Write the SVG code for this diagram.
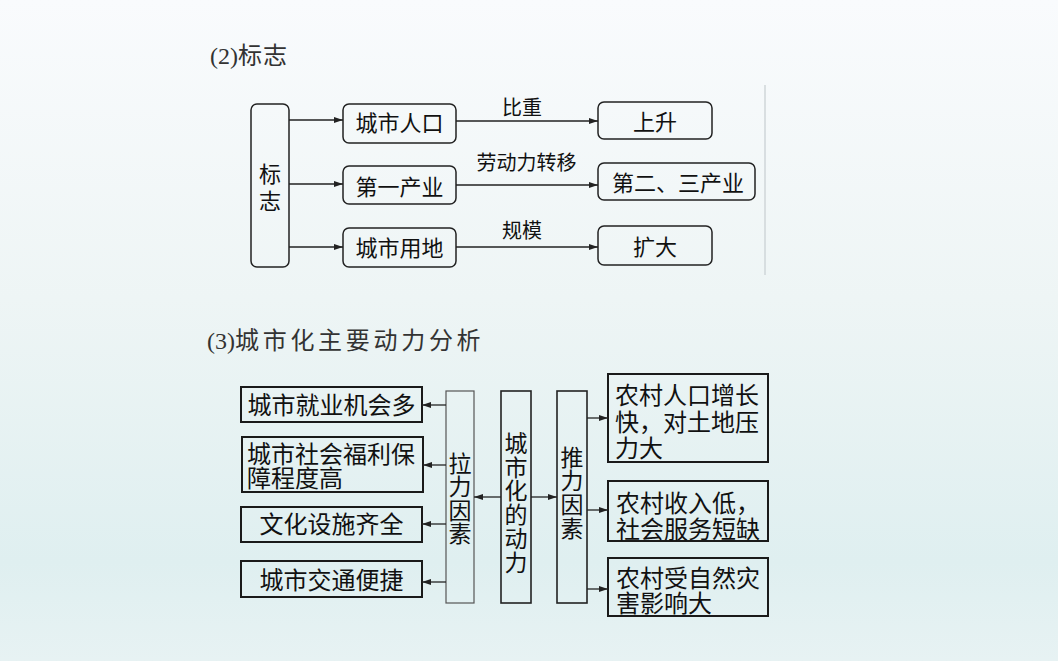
<svg xmlns="http://www.w3.org/2000/svg" width="1058" height="661" viewBox="0 0 1058 661">
<defs>
<linearGradient id="bg" x1="0" y1="0" x2="0" y2="1">
<stop offset="0" stop-color="#f9fbfd"/>
<stop offset="0.45" stop-color="#eef5f5"/>
<stop offset="0.85" stop-color="#dfeff0"/>
<stop offset="1" stop-color="#e7f2f3"/>
</linearGradient>
<marker id="ah" markerUnits="userSpaceOnUse" markerWidth="10" markerHeight="8" refX="9" refY="3" orient="auto">
<path d="M0,0 L9,3 L0,6 z" fill="#222"/>
</marker>
</defs>
<style>
.t{font-family:"Noto Sans CJK SC","Noto Sans",sans-serif;fill:#111}
.title{font-family:"Liberation Serif","Noto Sans CJK SC",serif;font-size:24px;fill:#333}
.b22{font-size:22px}
.b20{font-size:20px}
.b24{font-size:24px}
.b23{font-size:23px}
.v{writing-mode:vertical-rl;text-orientation:upright}
.rb{fill:none;stroke:#222;stroke-width:1.5}
.sb{fill:none;stroke:#1a1a1a;stroke-width:2}
.ln{stroke:#222;stroke-width:1.3;fill:none;marker-end:url(#ah)}
.mid{text-anchor:middle}
</style>
<rect x="0" y="0" width="1058" height="661" fill="url(#bg)"/>

<text class="title" x="210" y="64">(2)<tspan letter-spacing="1">标志</tspan></text>
<line x1="765" y1="85" x2="765" y2="275" stroke="#cfd6d8" stroke-width="1.5"/>

<g id="n-biaozhi">
<rect class="rb" x="251" y="104" width="38" height="163" rx="6"/>
<text class="t b22 v" x="270" y="163" letter-spacing="5">标志</text>
</g>
<g id="n-renkou">
<rect class="rb" x="343" y="104" width="113" height="39" rx="6"/>
<text class="t b22 mid" x="399.5" y="131">城市人口</text>
</g>
<g id="n-diyi">
<rect class="rb" x="343" y="166" width="113" height="38" rx="6"/>
<text class="t b22 mid" x="399.5" y="195">第一产业</text>
</g>
<g id="n-yongdi">
<rect class="rb" x="343" y="228" width="113" height="39" rx="6"/>
<text class="t b22 mid" x="399.5" y="256">城市用地</text>
</g>
<g id="n-shangsheng">
<rect class="rb" x="598" y="102" width="114" height="37" rx="6"/>
<text class="t b22 mid" x="655" y="130">上升</text>
</g>
<g id="n-ersan">
<rect class="rb" x="598" y="163" width="157" height="37" rx="6"/>
<text class="t b22 mid" x="678" y="191">第二、三产业</text>
</g>
<g id="n-kuoda">
<rect class="rb" x="598" y="226" width="114" height="39" rx="6"/>
<text class="t b22 mid" x="655" y="255">扩大</text>
</g>

<g id="connectors-2">
<line class="ln" x1="289" y1="120" x2="343" y2="120"/>
<line class="ln" x1="289" y1="184" x2="343" y2="184"/>
<line class="ln" x1="289" y1="247" x2="343" y2="247"/>
<line class="ln" x1="456" y1="121" x2="598" y2="121"/>
<line class="ln" x1="456" y1="185" x2="598" y2="185"/>
<line class="ln" x1="456" y1="247" x2="598" y2="247" stroke="#555"/>
<text class="t b20 mid" x="522" y="114.5">比重</text>
<text class="t b20 mid" x="526.5" y="169.5">劳动力转移</text>
<text class="t b20 mid" x="522" y="237.5">规模</text>
</g>

<text class="title" x="207" y="349">(3)<tspan letter-spacing="3.7">城市化主要动力分析</tspan></text>

<g id="n-jiuye">
<rect class="sb" x="241" y="387" width="181" height="35"/>
<text class="t b24 mid" x="331.5" y="413.5">城市就业机会多</text>
</g>
<g id="n-fuli">
<rect class="sb" x="242" y="437" width="181" height="55"/>
<text class="t b24"><tspan x="247" y="462.5">城市社会福利保</tspan><tspan x="247" y="486.5">障程度高</tspan></text>
</g>
<g id="n-wenhua">
<rect class="sb" x="241" y="507" width="181" height="35"/>
<text class="t b24 mid" x="331.5" y="533">文化设施齐全</text>
</g>
<g id="n-jiaotong">
<rect class="sb" x="241" y="561" width="181" height="36"/>
<text class="t b24 mid" x="331.5" y="589">城市交通便捷</text>
</g>
<g id="n-lali">
<rect x="446" y="391" width="28" height="212" fill="none" stroke="#555" stroke-width="1.2"/>
<text class="t b23 v" x="460" y="451.5" letter-spacing="0.5">拉力因素</text>
</g>
<g id="n-dongli">
<rect x="501" y="391" width="30" height="212" fill="none" stroke="#222" stroke-width="1.6"/>
<text class="t b23 v" x="516" y="431.5" letter-spacing="0.8">城市化的动力</text>
</g>
<g id="n-tuili">
<rect x="557" y="391" width="30" height="212" fill="none" stroke="#222" stroke-width="1.6"/>
<text class="t b23 v" x="572" y="445.5" letter-spacing="0.7">推力因素</text>
</g>
<g id="n-renkouzeng">
<rect class="sb" x="608" y="374" width="160" height="88"/>
<text class="t b24"><tspan x="615" y="404">农村人口增长</tspan><tspan x="615" y="431">快，对土地压</tspan><tspan x="615" y="457">力大</tspan></text>
</g>
<g id="n-shouru">
<rect class="sb" x="608" y="481" width="160" height="60"/>
<text class="t b24"><tspan x="616" y="512">农村收入低，</tspan><tspan x="616" y="538">社会服务短缺</tspan></text>
</g>
<g id="n-zaihai">
<rect class="sb" x="608" y="558" width="160" height="58"/>
<text class="t b24"><tspan x="616" y="587">农村受自然灾</tspan><tspan x="616" y="612">害影响大</tspan></text>
</g>

<g id="connectors-3">
<line class="ln" x1="446" y1="405" x2="422" y2="405"/>
<line class="ln" x1="446" y1="465" x2="423" y2="465"/>
<line class="ln" x1="446" y1="524" x2="422" y2="524"/>
<line class="ln" x1="446" y1="582" x2="422" y2="582"/>
<line class="ln" x1="501" y1="497" x2="474" y2="497"/>
<line class="ln" x1="531" y1="497" x2="557" y2="497"/>
<line class="ln" x1="587" y1="418" x2="608" y2="418"/>
<line class="ln" x1="587" y1="510" x2="608" y2="510"/>
<line class="ln" x1="587" y1="589" x2="608" y2="589"/>
</g>
</svg>
